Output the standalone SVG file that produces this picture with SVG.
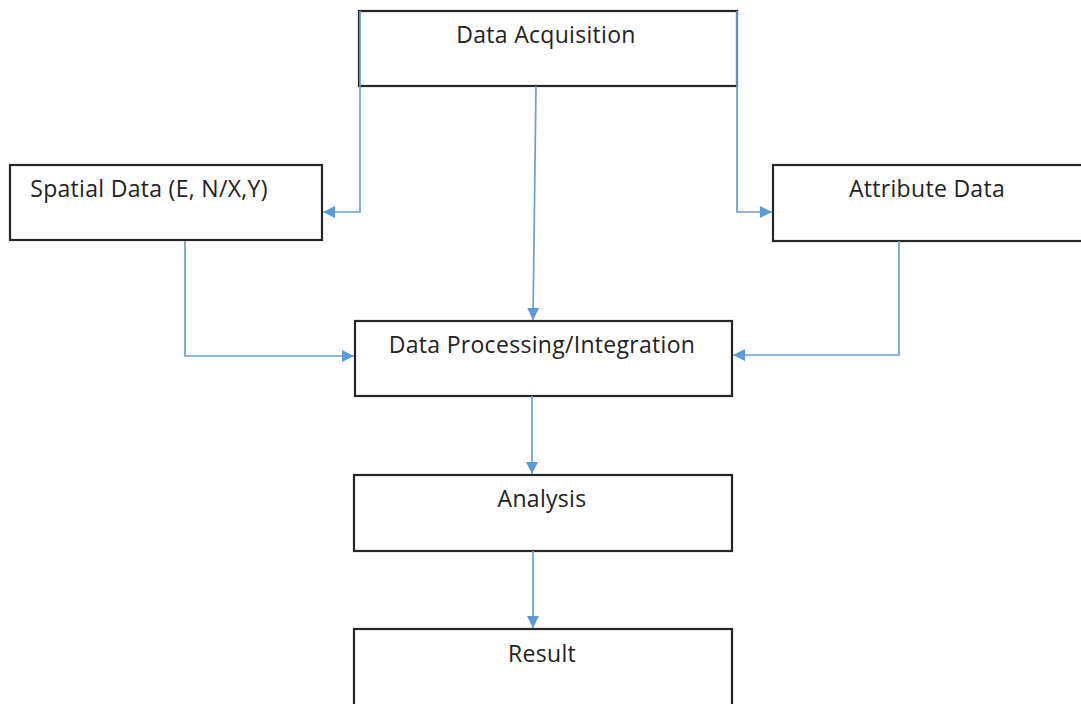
<svg xmlns="http://www.w3.org/2000/svg" width="1081" height="704" viewBox="0 0 1081 704">
<style>
.box{fill:#fff;stroke:#262626;stroke-width:2.2}
.lbl{font-family:"Open Sans","Liberation Sans",sans-serif;font-size:23px;letter-spacing:0.3px;fill:#222;text-anchor:middle}
.c{fill:none;stroke:#6b9fd3;stroke-width:1.7}
</style>
<defs>
<marker id="ah" viewBox="0 0 10 10" refX="10" refY="5" markerWidth="12" markerHeight="12" markerUnits="userSpaceOnUse" orient="auto">
<path d="M0,0 L10,5 L0,10 z" fill="#5b9bd5"/>
</marker>
</defs>
<rect width="1081" height="704" fill="#fff"/>
<g id="n-acq"><rect class="box" x="359" y="11" width="378" height="75"/><text class="lbl" x="546" y="43">Data Acquisition</text></g>
<g id="n-spatial"><rect class="box" x="10" y="165" width="312" height="75"/><text class="lbl" x="149" y="197">Spatial Data (E, N/X,Y)</text></g>
<g id="n-attr"><rect class="box" x="773" y="165" width="320" height="76"/><text class="lbl" x="927" y="197">Attribute Data</text></g>
<g id="n-proc"><rect class="box" x="355" y="321" width="377" height="75"/><text class="lbl" x="542" y="353">Data Processing/Integration</text></g>
<g id="n-analysis"><rect class="box" x="354" y="475" width="378" height="76"/><text class="lbl" x="542" y="507">Analysis</text></g>
<g id="n-result"><rect class="box" x="354" y="629" width="378" height="90"/><text class="lbl" x="542" y="662">Result</text></g>
<g id="connectors">
<polyline class="c" points="360,11 360,212 323,212" marker-end="url(#ah)"/>
<polyline class="c" points="737,11 737,212 772,212" marker-end="url(#ah)"/>
<line class="c" x1="536" y1="86" x2="533" y2="320" marker-end="url(#ah)"/>
<polyline class="c" points="185,241 185,356 354,356" marker-end="url(#ah)"/>
<polyline class="c" points="899,241 899,355 733,355" marker-end="url(#ah)"/>
<line class="c" x1="532" y1="396" x2="532" y2="474" marker-end="url(#ah)"/>
<line class="c" x1="533" y1="551" x2="533" y2="628" marker-end="url(#ah)"/>
</g>
</svg>
